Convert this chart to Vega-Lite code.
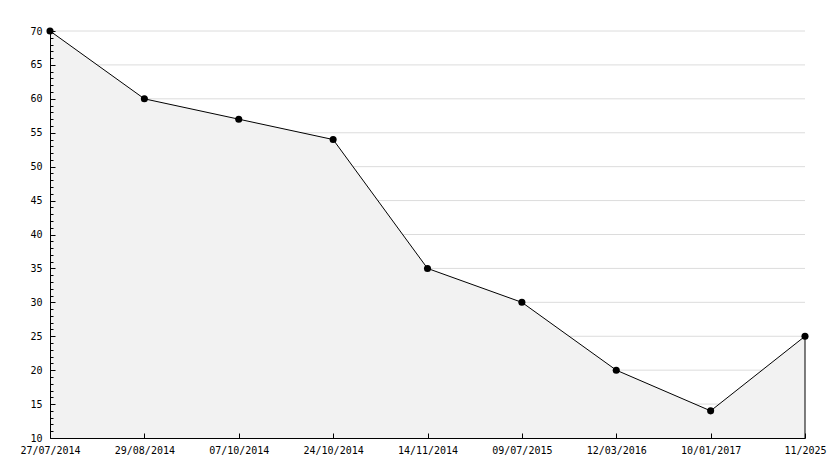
{
  "$schema": "https://vega.github.io/schema/vega-lite/v6.json",
  "width": 755,
  "height": 407,
  "autosize": {"type": "none"},
  "padding": {"left": 50, "top": 31, "right": 29, "bottom": 30},
  "background": "white",
  "datasets": {
    "series": [
      {"date": "27/07/2014", "value": 70},
      {"date": "29/08/2014", "value": 60},
      {"date": "07/10/2014", "value": 57},
      {"date": "24/10/2014", "value": 54},
      {"date": "14/11/2014", "value": 35},
      {"date": "09/07/2015", "value": 30},
      {"date": "12/03/2016", "value": 20},
      {"date": "10/01/2017", "value": 14},
      {"date": "11/2025", "value": 25}
    ],
    "grid": [{"value": 15}, {"value": 20}, {"value": 25}, {"value": 30}, {"value": 35}, {"value": 40}, {"value": 45}, {"value": 50}, {"value": 55}, {"value": 60}, {"value": 65}, {"value": 70}]
  },
  "config": {
    "view": {"stroke": null},
    "axis": {"labelFont": "DejaVu Sans Mono", "labelFontSize": 10, "labelColor": "#000", "domainColor": "#000", "tickColor": "#000"}
  },
  "encoding": {
    "y": {"field": "value", "type": "quantitative",
      "scale": {"domain": [10, 70], "nice": false, "zero": false},
      "axis": {"title": null, "zindex": 2, "grid": false,
        "values": [10,11,12,13,14,15,16,17,18,19,20,21,22,23,24,25,26,27,28,29,30,31,32,33,34,35,36,37,38,39,40,41,42,43,44,45,46,47,48,49,50,51,52,53,54,55,56,57,58,59,60,61,62,63,64,65,66,67,68,69,70],
        "labelExpr": "datum.value % 5 === 0 ? datum.label : ''",
        "tickSize": {"condition": {"test": "datum.value % 5 === 0", "value": -5}, "value": -3},
        "labelPadding": 13,
        "labelOverlap": false}}
  },
  "layer": [
    {"data": {"name": "grid"},
     "mark": {"type": "rule", "color": "#dcdcdc", "strokeWidth": 1}},
    {"data": {"name": "series"},
     "encoding": {
       "x": {"field": "date", "type": "ordinal", "sort": null,
         "scale": {"type": "point", "padding": 0},
         "axis": {"title": null, "labelAngle": 0, "tickSize": -5, "labelPadding": 12, "grid": false, "labelOverlap": false, "labelBound": false, "domainWidth": 1, "zindex": 2}}
     },
     "layer": [
       {"mark": {"type": "area", "color": "#f2f2f2", "opacity": 1}, "encoding": {"y2": {"datum": 10}}},
       {"mark": {"type": "line", "color": "#000", "strokeWidth": 1}},
       {"mark": {"type": "point", "filled": true, "color": "#000", "shape": "circle", "size": 50, "opacity": 1}},
       {"transform": [{"filter": "datum.date === '11/2025'"}],
        "mark": {"type": "rule", "color": "#000", "strokeWidth": 1}, "encoding": {"y": {"datum": 10}, "y2": {"field": "value"}}}
     ]}
  ]
}
